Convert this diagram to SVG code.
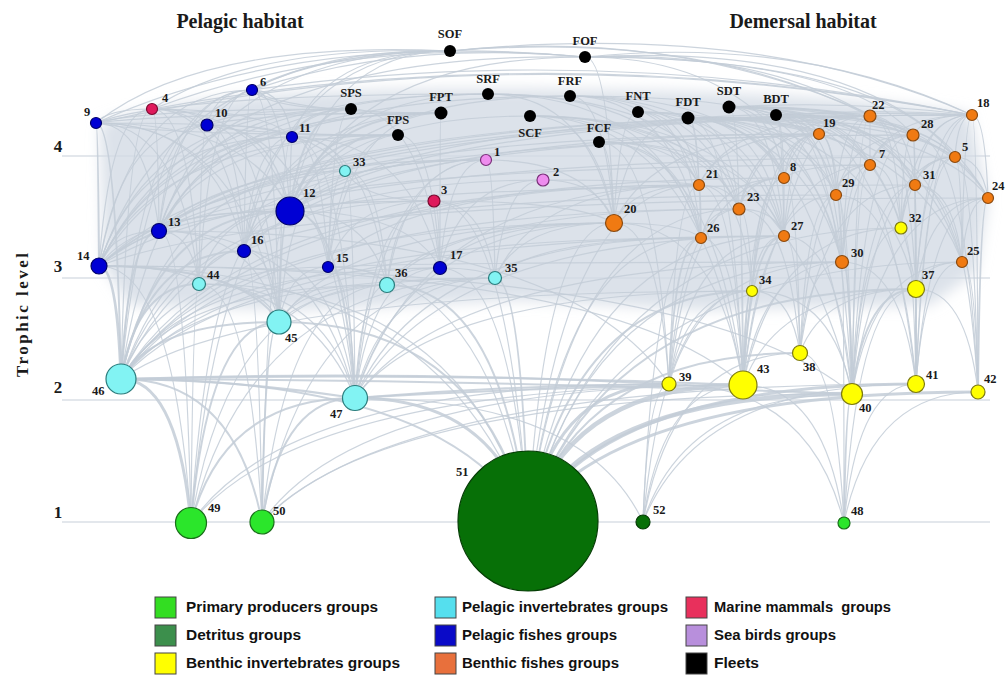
<svg xmlns="http://www.w3.org/2000/svg" width="1006" height="675" viewBox="0 0 1006 675">
<style>
.grid{stroke:#e3e7ec;stroke-width:2;fill:none}
#edges path{fill:none;stroke:#c3ccd7;stroke-opacity:0.85;stroke-linecap:round}
#edges .a{stroke-width:1.2}
#edges .b{stroke-width:2}
#edges .c{stroke-width:3}
#edges .d{stroke-width:4.5}
.pp{fill:#2be62b;stroke:#1a6f1a;stroke-width:1.2}
.det{fill:#077007;stroke:#053d05;stroke-width:1.2}
.bi{fill:#ffff00;stroke:#7d7a10;stroke-width:1.2}
.pi{fill:#82f3f3;stroke:#2a7c7c;stroke-width:1.2}
.pf{fill:#0000d4;stroke:#00006a;stroke-width:1.2}
.bf{fill:#f07a12;stroke:#8a4a10;stroke-width:1.2}
.mm{fill:#df1a5c;stroke:#7a0a30;stroke-width:1.2}
.sb{fill:#ee8cee;stroke:#7a307a;stroke-width:1.2}
.fl{fill:#000}
.lb{font-family:"Liberation Serif","Times New Roman",serif;font-weight:bold;font-size:12.5px;fill:#1a1a1a}
.fb{font-family:"Liberation Serif","Times New Roman",serif;font-weight:bold;font-size:12.5px;fill:#1a1a1a;text-anchor:middle}
.ax{font-family:"Liberation Serif","Times New Roman",serif;font-weight:bold;font-size:17px;fill:#1a1a1a;text-anchor:middle}
.tt{font-family:"Liberation Serif","Times New Roman",serif;font-weight:bold;font-size:20px;fill:#1a1a1a;text-anchor:middle}
.lg{font-family:"Liberation Sans",Arial,sans-serif;font-weight:bold;font-size:14px;fill:#111}
.lgb{stroke:#444;stroke-width:1}
</style>
<defs>
<filter id="soft" x="-10%" y="-20%" width="120%" height="140%"><feGaussianBlur stdDeviation="7"/></filter>
</defs>
<rect width="1006" height="675" fill="#fff"/>
<g id="axis">
<line class="grid" x1="62" y1="156" x2="990" y2="156"/>
<line class="grid" x1="62" y1="278" x2="990" y2="278"/>
<line class="grid" x1="62" y1="400" x2="990" y2="400"/>
<line class="grid" x1="62" y1="522" x2="990" y2="522"/>
<text class="ax" x="58" y="152">4</text>
<text class="ax" x="58" y="272">3</text>
<text class="ax" x="58" y="393">2</text>
<text class="ax" x="58" y="518">1</text>
<text class="ax" transform="translate(28,315) rotate(-90)" textLength="124" lengthAdjust="spacing">Trophic level</text>
<text class="tt" x="240" y="28">Pelagic habitat</text>
<text class="tt" x="803" y="28">Demersal habitat</text>
</g>
<path d="M100,124 C160,98 300,90 450,89 C650,88 850,94 970,114 L988,200 L976,272 L930,305 L700,310 L520,300 L300,310 L130,305 L104,266 Z" fill="#d3dbe5" fill-opacity="0.8" filter="url(#soft)"/>
<g id="edges">
<path class="c" d="M191,523Q177,379 121,379"/>
<path class="b" d="M191,523Q209,322 279,322"/>
<path class="b" d="M191,523Q224,398 355,398"/>
<path class="a" d="M191,523Q193,284 199,284"/>
<path class="a" d="M191,523Q230,285 387,285"/>
<path class="a" d="M191,523Q252,278 495,278"/>
<path class="a" d="M191,523Q222,171 345,171"/>
<path class="a" d="M191,523Q173,266 99,266"/>
<path class="a" d="M191,523Q185,231 159,231"/>
<path class="a" d="M191,523Q301,385 743,385"/>
<path class="a" d="M191,523Q287,384 669,384"/>
<path class="a" d="M191,523Q211,211 290,211"/>
<path class="b" d="M262,522Q234,379 121,379"/>
<path class="b" d="M262,522Q265,322 279,322"/>
<path class="b" d="M262,522Q281,398 355,398"/>
<path class="a" d="M262,522Q249,284 199,284"/>
<path class="a" d="M262,522Q287,285 387,285"/>
<path class="a" d="M262,522Q358,385 743,385"/>
<path class="a" d="M262,522Q393,384 916,384"/>
<path class="a" d="M262,522Q258,251 244,251"/>
<path class="a" d="M262,522Q268,211 290,211"/>
<path class="a" d="M262,522Q309,278 495,278"/>
<path class="a" d="M262,522Q380,394 852,394"/>
<path class="b" d="M528,521Q447,379 121,379"/>
<path class="c" d="M528,521Q493,398 355,398"/>
<path class="b" d="M528,521Q478,322 279,322"/>
<path class="c" d="M528,521Q556,384 669,384"/>
<path class="d" d="M528,521Q571,385 743,385"/>
<path class="d" d="M528,521Q593,394 852,394"/>
<path class="c" d="M528,521Q606,384 916,384"/>
<path class="c" d="M528,521Q618,392 978,392"/>
<path class="b" d="M528,521Q582,353 800,353"/>
<path class="b" d="M528,521Q606,289 916,289"/>
<path class="b" d="M528,521Q573,291 752,291"/>
<path class="a" d="M528,521Q603,228 901,228"/>
<path class="b" d="M528,521Q521,278 495,278"/>
<path class="b" d="M528,521Q500,285 387,285"/>
<path class="a" d="M528,521Q545,223 614,223"/>
<path class="a" d="M528,521Q563,238 701,238"/>
<path class="a" d="M528,521Q570,209 739,209"/>
<path class="a" d="M528,521Q579,236 784,236"/>
<path class="a" d="M528,521Q591,262 842,262"/>
<path class="a" d="M528,521Q615,262 962,262"/>
<path class="a" d="M528,521Q462,284 199,284"/>
<path class="a" d="M528,521Q442,266 99,266"/>
<path class="a" d="M528,521Q510,268 440,268"/>
<path class="a" d="M528,521Q488,267 328,267"/>
<path class="a" d="M528,521Q507,201 434,201"/>
<path class="a" d="M528,521Q562,185 699,185"/>
<path class="a" d="M643,522Q648,384 669,384"/>
<path class="a" d="M643,522Q663,385 743,385"/>
<path class="a" d="M643,522Q685,394 852,394"/>
<path class="a" d="M643,522Q674,353 800,353"/>
<path class="a" d="M643,522Q665,291 752,291"/>
<path class="a" d="M643,522Q655,238 701,238"/>
<path class="a" d="M643,522Q585,398 355,398"/>
<path class="a" d="M643,522Q698,384 916,384"/>
<path class="b" d="M844,523Q846,394 852,394"/>
<path class="a" d="M844,523Q858,384 916,384"/>
<path class="a" d="M844,523Q824,385 743,385"/>
<path class="a" d="M844,523Q835,353 800,353"/>
<path class="a" d="M844,523Q858,289 916,289"/>
<path class="a" d="M844,523Q871,392 978,392"/>
<path class="a" d="M844,523Q809,384 669,384"/>
<path class="a" d="M844,523Q844,262 842,262"/>
<path class="b" d="M121,379Q137,284 199,284"/>
<path class="b" d="M121,379Q153,322 279,322"/>
<path class="c" d="M121,379Q117,266 99,266"/>
<path class="b" d="M121,379Q129,231 159,231"/>
<path class="b" d="M121,379Q146,251 244,251"/>
<path class="b" d="M121,379Q155,211 290,211"/>
<path class="a" d="M121,379Q162,267 328,267"/>
<path class="a" d="M121,379Q185,268 440,268"/>
<path class="a" d="M121,379Q174,285 387,285"/>
<path class="a" d="M121,379Q196,278 495,278"/>
<path class="a" d="M121,379Q166,171 345,171"/>
<path class="b" d="M121,379Q116,123 96,123"/>
<path class="a" d="M121,379Q138,125 207,125"/>
<path class="a" d="M121,379Q155,137 292,137"/>
<path class="a" d="M121,379Q147,90 252,90"/>
<path class="a" d="M121,379Q127,109 152,109"/>
<path class="b" d="M121,379Q238,380 355,398"/>
<path class="a" d="M121,379Q220,223 614,223"/>
<path class="a" d="M121,379Q237,238 701,238"/>
<path class="a" d="M121,379Q237,185 699,185"/>
<path class="a" d="M121,379Q245,209 739,209"/>
<path class="a" d="M121,379Q184,201 434,201"/>
<path class="a" d="M121,379Q194,160 486,160"/>
<path class="a" d="M121,379Q205,180 543,180"/>
<path class="b" d="M121,379Q395,370 669,384"/>
<path class="b" d="M121,379Q430,372 743,385"/>
<path class="b" d="M121,379Q480,380 852,394"/>
<path class="a" d="M121,379Q247,291 752,291"/>
<path class="a" d="M121,379Q254,236 784,236"/>
<path class="a" d="M121,379Q254,178 784,178"/>
<path class="a" d="M355,398Q361,285 387,285"/>
<path class="a" d="M355,398Q383,278 495,278"/>
<path class="a" d="M355,398Q350,267 328,267"/>
<path class="a" d="M355,398Q372,268 440,268"/>
<path class="b" d="M355,398Q342,211 290,211"/>
<path class="a" d="M355,398Q333,251 244,251"/>
<path class="a" d="M355,398Q407,223 614,223"/>
<path class="a" d="M355,398Q424,238 701,238"/>
<path class="a" d="M355,398Q441,236 784,236"/>
<path class="b" d="M355,398Q512,385 669,384"/>
<path class="b" d="M355,398Q550,386 743,385"/>
<path class="a" d="M355,398Q452,262 842,262"/>
<path class="a" d="M355,398Q434,291 752,291"/>
<path class="a" d="M355,398Q316,231 159,231"/>
<path class="a" d="M355,398Q304,266 99,266"/>
<path class="a" d="M355,398Q324,284 199,284"/>
<path class="a" d="M355,398Q353,171 345,171"/>
<path class="a" d="M355,398Q371,201 434,201"/>
<path class="a" d="M355,398Q381,160 486,160"/>
<path class="a" d="M355,398Q342,137 292,137"/>
<path class="a" d="M355,398Q325,125 207,125"/>
<path class="a" d="M355,398Q424,185 699,185"/>
<path class="a" d="M279,322Q263,284 199,284"/>
<path class="a" d="M279,322Q301,285 387,285"/>
<path class="b" d="M279,322Q243,266 99,266"/>
<path class="a" d="M279,322Q255,231 159,231"/>
<path class="a" d="M279,322Q272,251 244,251"/>
<path class="b" d="M279,322Q281,211 290,211"/>
<path class="a" d="M279,322Q289,267 328,267"/>
<path class="a" d="M279,322Q292,171 345,171"/>
<path class="a" d="M279,322Q282,137 292,137"/>
<path class="a" d="M279,322Q265,125 207,125"/>
<path class="a" d="M279,322Q242,123 96,123"/>
<path class="a" d="M279,322Q311,268 440,268"/>
<path class="a" d="M279,322Q322,278 495,278"/>
<path class="a" d="M279,322Q254,109 152,109"/>
<path class="a" d="M279,322Q274,90 252,90"/>
<path class="a" d="M279,322Q346,223 614,223"/>
<path class="a" d="M199,284Q179,266 99,266"/>
<path class="a" d="M199,284Q191,231 159,231"/>
<path class="a" d="M199,284Q180,123 96,123"/>
<path class="a" d="M199,284Q190,109 152,109"/>
<path class="a" d="M199,284Q208,251 244,251"/>
<path class="a" d="M199,284Q217,211 290,211"/>
<path class="a" d="M199,284Q201,125 207,125"/>
<path class="a" d="M199,284Q210,90 252,90"/>
<path class="a" d="M387,285Q368,211 290,211"/>
<path class="a" d="M387,285Q375,267 328,267"/>
<path class="a" d="M387,285Q398,268 440,268"/>
<path class="a" d="M387,285Q379,171 345,171"/>
<path class="a" d="M387,285Q396,201 434,201"/>
<path class="a" d="M387,285Q407,160 486,160"/>
<path class="a" d="M387,285Q368,137 292,137"/>
<path class="a" d="M387,285Q432,223 614,223"/>
<path class="a" d="M495,278Q484,268 440,268"/>
<path class="a" d="M495,278Q519,223 614,223"/>
<path class="a" d="M495,278Q505,180 543,180"/>
<path class="a" d="M495,278Q483,201 434,201"/>
<path class="a" d="M495,278Q536,185 699,185"/>
<path class="a" d="M495,278Q493,160 486,160"/>
<path class="a" d="M495,278Q536,238 701,238"/>
<path class="a" d="M345,171Q334,137 292,137"/>
<path class="a" d="M345,171Q373,160 486,160"/>
<path class="a" d="M345,171Q363,201 434,201"/>
<path class="a" d="M345,171Q313,125 207,125"/>
<path class="b" d="M669,384Q675,238 701,238"/>
<path class="a" d="M669,384Q658,223 614,223"/>
<path class="a" d="M669,384Q683,209 739,209"/>
<path class="a" d="M669,384Q675,185 699,185"/>
<path class="a" d="M669,384Q692,236 784,236"/>
<path class="a" d="M669,384Q692,178 784,178"/>
<path class="a" d="M669,384Q686,291 752,291"/>
<path class="a" d="M669,384Q704,262 842,262"/>
<path class="b" d="M743,385Q742,209 739,209"/>
<path class="b" d="M743,385Q751,236 784,236"/>
<path class="a" d="M743,385Q763,262 842,262"/>
<path class="a" d="M743,385Q751,178 784,178"/>
<path class="a" d="M743,385Q762,195 836,195"/>
<path class="a" d="M743,385Q734,185 699,185"/>
<path class="a" d="M743,385Q735,238 701,238"/>
<path class="a" d="M743,385Q758,134 819,134"/>
<path class="a" d="M743,385Q768,165 870,165"/>
<path class="b" d="M743,385Q745,291 752,291"/>
<path class="a" d="M743,385Q717,223 614,223"/>
<path class="a" d="M743,385Q778,289 916,289"/>
<path class="a" d="M743,385Q775,228 901,228"/>
<path class="a" d="M800,353Q797,236 784,236"/>
<path class="a" d="M800,353Q808,262 842,262"/>
<path class="a" d="M800,353Q807,195 836,195"/>
<path class="a" d="M800,353Q814,165 870,165"/>
<path class="a" d="M800,353Q823,185 915,185"/>
<path class="a" d="M800,353Q790,291 752,291"/>
<path class="a" d="M800,353Q823,289 916,289"/>
<path class="a" d="M800,353Q797,178 784,178"/>
<path class="a" d="M800,353Q788,209 739,209"/>
<path class="b" d="M852,394Q850,262 842,262"/>
<path class="a" d="M852,394Q849,195 836,195"/>
<path class="b" d="M852,394Q865,289 916,289"/>
<path class="a" d="M852,394Q865,185 915,185"/>
<path class="a" d="M852,394Q864,135 913,135"/>
<path class="a" d="M852,394Q874,262 962,262"/>
<path class="a" d="M852,394Q862,228 901,228"/>
<path class="a" d="M852,394Q856,165 870,165"/>
<path class="a" d="M852,394Q838,236 784,236"/>
<path class="a" d="M852,394Q856,116 870,116"/>
<path class="a" d="M852,394Q845,134 819,134"/>
<path class="a" d="M852,394Q879,198 988,198"/>
<path class="a" d="M852,394Q832,291 752,291"/>
<path class="a" d="M852,394Q873,157 955,157"/>
<path class="b" d="M916,384Q916,330 916,289"/>
<path class="a" d="M916,384Q916,185 915,185"/>
<path class="a" d="M916,384Q925,262 962,262"/>
<path class="a" d="M916,384Q915,135 913,135"/>
<path class="a" d="M916,384Q930,198 988,198"/>
<path class="a" d="M916,384Q924,157 955,157"/>
<path class="a" d="M916,384Q927,115 972,115"/>
<path class="a" d="M916,384Q913,228 901,228"/>
<path class="a" d="M916,384Q901,262 842,262"/>
<path class="a" d="M916,384Q900,195 836,195"/>
<path class="b" d="M978,392Q980,198 988,198"/>
<path class="a" d="M978,392Q975,262 962,262"/>
<path class="a" d="M978,392Q977,115 972,115"/>
<path class="a" d="M978,392Q973,157 955,157"/>
<path class="a" d="M978,392Q966,289 916,289"/>
<path class="a" d="M978,392Q966,185 915,185"/>
<path class="a" d="M978,392Q965,135 913,135"/>
<path class="a" d="M916,289Q916,185 915,185"/>
<path class="a" d="M916,289Q915,135 913,135"/>
<path class="a" d="M916,289Q927,115 972,115"/>
<path class="a" d="M916,289Q924,157 955,157"/>
<path class="a" d="M916,289Q930,198 988,198"/>
<path class="a" d="M916,289Q907,116 870,116"/>
<path class="a" d="M916,289Q925,262 962,262"/>
<path class="a" d="M752,291Q749,209 739,209"/>
<path class="a" d="M752,291Q758,178 784,178"/>
<path class="a" d="M752,291Q758,236 784,236"/>
<path class="a" d="M752,291Q742,185 699,185"/>
<path class="a" d="M752,291Q765,134 819,134"/>
<path class="a" d="M901,228Q903,135 913,135"/>
<path class="a" d="M901,228Q895,165 870,165"/>
<path class="a" d="M901,228Q895,116 870,116"/>
<path class="a" d="M901,228Q904,185 915,185"/>
<path class="a" d="M901,228Q912,157 955,157"/>
<path class="a" d="M901,228Q915,115 972,115"/>
<path class="a" d="M842,262Q841,195 836,195"/>
<path class="a" d="M842,262Q848,165 870,165"/>
<path class="a" d="M842,262Q837,134 819,134"/>
<path class="a" d="M842,262Q848,116 870,116"/>
<path class="a" d="M842,262Q856,135 913,135"/>
<path class="a" d="M784,236Q784,200 784,178"/>
<path class="a" d="M784,236Q791,134 819,134"/>
<path class="a" d="M784,236Q801,116 870,116"/>
<path class="a" d="M784,236Q775,209 739,209"/>
<path class="a" d="M701,238Q701,185 699,185"/>
<path class="a" d="M701,238Q709,209 739,209"/>
<path class="a" d="M701,238Q684,223 614,223"/>
<path class="a" d="M701,238Q718,178 784,178"/>
<path class="a" d="M739,209Q731,185 699,185"/>
<path class="a" d="M739,209Q748,178 784,178"/>
<path class="a" d="M739,209Q755,134 819,134"/>
<path class="a" d="M739,209Q765,116 870,116"/>
<path class="a" d="M614,223Q631,185 699,185"/>
<path class="a" d="M614,223Q600,180 543,180"/>
<path class="a" d="M614,223Q588,160 486,160"/>
<path class="a" d="M614,223Q655,134 819,134"/>
<path class="a" d="M614,223Q578,201 434,201"/>
<path class="a" d="M962,262Q967,198 988,198"/>
<path class="a" d="M962,262Q961,157 955,157"/>
<path class="a" d="M962,262Q964,115 972,115"/>
<path class="a" d="M962,262Q953,185 915,185"/>
<path class="a" d="M836,195Q843,165 870,165"/>
<path class="a" d="M836,195Q833,134 819,134"/>
<path class="a" d="M836,195Q851,135 913,135"/>
<path class="a" d="M836,195Q843,116 870,116"/>
<path class="a" d="M915,185Q915,135 913,135"/>
<path class="a" d="M915,185Q923,157 955,157"/>
<path class="a" d="M915,185Q926,115 972,115"/>
<path class="a" d="M915,185Q906,116 870,116"/>
<path class="a" d="M988,198Q985,115 972,115"/>
<path class="a" d="M988,198Q981,157 955,157"/>
<path class="a" d="M699,185Q723,134 819,134"/>
<path class="a" d="M699,185Q733,116 870,116"/>
<path class="a" d="M699,185Q668,180 543,180"/>
<path class="a" d="M784,178Q791,134 819,134"/>
<path class="a" d="M784,178Q801,116 870,116"/>
<path class="a" d="M784,178Q801,165 870,165"/>
<path class="a" d="M870,165Q870,140 870,116"/>
<path class="a" d="M870,165Q879,135 913,135"/>
<path class="a" d="M870,165Q890,115 972,115"/>
<path class="a" d="M819,134Q829,116 870,116"/>
<path class="a" d="M913,135Q925,115 972,115"/>
<path class="a" d="M955,157Q958,115 972,115"/>
<path class="b" d="M99,266Q98,123 96,123"/>
<path class="a" d="M99,266Q110,109 152,109"/>
<path class="a" d="M99,266Q121,125 207,125"/>
<path class="a" d="M99,266Q111,231 159,231"/>
<path class="a" d="M99,266Q130,90 252,90"/>
<path class="a" d="M99,266Q137,211 290,211"/>
<path class="a" d="M99,266Q138,137 292,137"/>
<path class="a" d="M99,266Q166,201 434,201"/>
<path class="a" d="M159,231Q146,123 96,123"/>
<path class="a" d="M159,231Q169,125 207,125"/>
<path class="a" d="M159,231Q158,109 152,109"/>
<path class="a" d="M159,231Q178,90 252,90"/>
<path class="a" d="M159,231Q185,211 290,211"/>
<path class="a" d="M159,231Q186,137 292,137"/>
<path class="a" d="M159,231Q224,160 486,160"/>
<path class="a" d="M244,251Q237,125 207,125"/>
<path class="a" d="M244,251Q254,137 292,137"/>
<path class="a" d="M244,251Q246,90 252,90"/>
<path class="a" d="M244,251Q253,211 290,211"/>
<path class="a" d="M244,251Q226,109 152,109"/>
<path class="a" d="M244,251Q215,123 96,123"/>
<path class="a" d="M290,211Q282,90 252,90"/>
<path class="a" d="M290,211Q273,125 207,125"/>
<path class="a" d="M290,211Q290,160 292,137"/>
<path class="a" d="M290,211Q262,109 152,109"/>
<path class="a" d="M290,211Q329,160 486,160"/>
<path class="a" d="M290,211Q319,201 434,201"/>
<path class="a" d="M290,211Q251,123 96,123"/>
<path class="a" d="M328,267Q321,137 292,137"/>
<path class="a" d="M328,267Q320,211 290,211"/>
<path class="a" d="M328,267Q331,171 345,171"/>
<path class="a" d="M328,267Q349,201 434,201"/>
<path class="a" d="M440,268Q439,201 434,201"/>
<path class="a" d="M440,268Q449,160 486,160"/>
<path class="a" d="M440,268Q461,180 543,180"/>
<path class="a" d="M440,268Q410,211 290,211"/>
<path class="a" d="M440,268Q410,137 292,137"/>
<path class="a" d="M292,137Q284,90 252,90"/>
<path class="a" d="M292,137Q264,109 152,109"/>
<path class="a" d="M292,137Q275,125 207,125"/>
<path class="a" d="M207,125Q198,109 152,109"/>
<path class="a" d="M207,125Q216,90 252,90"/>
<path class="a" d="M207,125Q185,123 96,123"/>
<path class="a" d="M96,123Q107,109 152,109"/>
<path class="a" d="M96,123Q200,40 450,51"/>
<path class="a" d="M252,90Q330,48 450,51"/>
<path class="a" d="M207,125Q260,55 450,51"/>
<path class="a" d="M290,211Q322,51 450,51"/>
<path class="a" d="M159,231Q217,51 450,51"/>
<path class="a" d="M99,266Q169,51 450,51"/>
<path class="a" d="M244,251Q285,51 450,51"/>
<path class="a" d="M292,137Q324,51 450,51"/>
<path class="a" d="M152,109Q250,45 450,51"/>
<path class="a" d="M972,115Q760,20 450,51"/>
<path class="a" d="M870,116Q700,30 450,51"/>
<path class="a" d="M913,135Q700,25 450,51"/>
<path class="a" d="M96,123Q300,30 585,57"/>
<path class="a" d="M152,109Q350,35 585,57"/>
<path class="a" d="M252,90Q400,40 585,57"/>
<path class="a" d="M99,266Q200,50 585,57"/>
<path class="a" d="M290,211Q349,57 585,57"/>
<path class="a" d="M972,115Q800,35 585,57"/>
<path class="a" d="M870,116Q760,50 585,57"/>
<path class="a" d="M913,135Q847,57 585,57"/>
<path class="a" d="M988,198Q900,40 585,57"/>
<path class="a" d="M955,157Q881,57 585,57"/>
<path class="a" d="M614,223Q608,57 585,57"/>
<path class="a" d="M842,262Q791,57 585,57"/>
<path class="a" d="M96,123Q520,30 972,115"/>
<path class="a" d="M152,109Q560,35 972,115"/>
<path class="a" d="M252,90Q600,40 972,115"/>
<path class="a" d="M96,123Q147,109 351,109"/>
<path class="a" d="M207,125Q236,109 351,109"/>
<path class="a" d="M292,137Q304,109 351,109"/>
<path class="b" d="M290,211Q302,109 351,109"/>
<path class="a" d="M159,231Q197,109 351,109"/>
<path class="a" d="M99,266Q149,109 351,109"/>
<path class="a" d="M244,251Q265,109 351,109"/>
<path class="a" d="M328,267Q333,109 351,109"/>
<path class="a" d="M440,268Q422,109 351,109"/>
<path class="a" d="M252,90Q272,109 351,109"/>
<path class="b" d="M290,211Q320,113 441,113"/>
<path class="a" d="M159,231Q215,113 441,113"/>
<path class="a" d="M99,266Q167,113 441,113"/>
<path class="a" d="M96,123Q165,113 441,113"/>
<path class="a" d="M244,251Q283,113 441,113"/>
<path class="a" d="M328,267Q351,113 441,113"/>
<path class="a" d="M440,268Q440,113 441,113"/>
<path class="a" d="M292,137Q322,113 441,113"/>
<path class="a" d="M207,125Q254,113 441,113"/>
<path class="a" d="M252,90Q290,113 441,113"/>
<path class="b" d="M290,211Q312,135 398,135"/>
<path class="a" d="M159,231Q207,135 398,135"/>
<path class="a" d="M99,266Q159,135 398,135"/>
<path class="a" d="M244,251Q275,135 398,135"/>
<path class="a" d="M328,267Q342,135 398,135"/>
<path class="a" d="M440,268Q432,135 398,135"/>
<path class="a" d="M292,137Q313,135 398,135"/>
<path class="a" d="M207,125Q245,135 398,135"/>
<path class="a" d="M96,123Q156,135 398,135"/>
<path class="a" d="M614,223Q589,94 488,94"/>
<path class="a" d="M699,185Q657,94 488,94"/>
<path class="a" d="M290,211Q330,94 488,94"/>
<path class="a" d="M99,266Q177,94 488,94"/>
<path class="a" d="M159,231Q225,94 488,94"/>
<path class="a" d="M701,238Q658,94 488,94"/>
<path class="a" d="M739,209Q689,94 488,94"/>
<path class="a" d="M96,123Q174,94 488,94"/>
<path class="a" d="M614,223Q605,96 570,96"/>
<path class="a" d="M699,185Q673,96 570,96"/>
<path class="a" d="M739,209Q705,96 570,96"/>
<path class="a" d="M701,238Q675,96 570,96"/>
<path class="a" d="M784,236Q741,96 570,96"/>
<path class="a" d="M819,134Q769,96 570,96"/>
<path class="a" d="M784,178Q741,96 570,96"/>
<path class="a" d="M99,266Q193,96 570,96"/>
<path class="a" d="M290,211Q346,96 570,96"/>
<path class="a" d="M614,223Q597,116 530,116"/>
<path class="a" d="M699,185Q665,116 530,116"/>
<path class="a" d="M739,209Q697,116 530,116"/>
<path class="a" d="M701,238Q667,116 530,116"/>
<path class="a" d="M290,211Q338,116 530,116"/>
<path class="a" d="M743,385Q700,116 530,116"/>
<path class="a" d="M852,394Q788,116 530,116"/>
<path class="a" d="M784,236Q733,116 530,116"/>
<path class="a" d="M614,223Q611,142 599,142"/>
<path class="a" d="M699,185Q679,142 599,142"/>
<path class="a" d="M739,209Q711,142 599,142"/>
<path class="a" d="M701,238Q681,142 599,142"/>
<path class="a" d="M784,236Q747,142 599,142"/>
<path class="a" d="M743,385Q714,142 599,142"/>
<path class="a" d="M669,384Q655,142 599,142"/>
<path class="a" d="M614,223Q619,112 638,112"/>
<path class="a" d="M699,185Q687,112 638,112"/>
<path class="a" d="M739,209Q719,112 638,112"/>
<path class="a" d="M701,238Q688,112 638,112"/>
<path class="a" d="M784,236Q755,112 638,112"/>
<path class="a" d="M784,178Q755,112 638,112"/>
<path class="a" d="M836,195Q796,112 638,112"/>
<path class="a" d="M842,262Q801,112 638,112"/>
<path class="a" d="M614,223Q629,118 688,118"/>
<path class="a" d="M699,185Q697,118 688,118"/>
<path class="a" d="M739,209Q729,118 688,118"/>
<path class="a" d="M701,238Q698,118 688,118"/>
<path class="a" d="M784,236Q765,118 688,118"/>
<path class="a" d="M784,178Q765,118 688,118"/>
<path class="a" d="M836,195Q806,118 688,118"/>
<path class="a" d="M842,262Q811,118 688,118"/>
<path class="a" d="M870,165Q834,118 688,118"/>
<path class="a" d="M819,134Q793,118 688,118"/>
<path class="a" d="M870,116Q779,117 688,118"/>
<path class="a" d="M913,135Q868,118 688,118"/>
<path class="a" d="M915,185Q870,118 688,118"/>
<path class="a" d="M962,262Q907,118 688,118"/>
<path class="a" d="M988,198Q928,118 688,118"/>
<path class="a" d="M972,115Q830,110 688,118"/>
<path class="a" d="M955,157Q902,118 688,118"/>
<path class="a" d="M852,394Q819,118 688,118"/>
<path class="a" d="M743,385Q732,118 688,118"/>
<path class="a" d="M916,289Q870,118 688,118"/>
<path class="a" d="M819,134Q801,107 729,107"/>
<path class="a" d="M870,116Q800,105 729,107"/>
<path class="a" d="M913,135Q876,107 729,107"/>
<path class="a" d="M972,115Q850,100 729,107"/>
<path class="a" d="M955,157Q910,107 729,107"/>
<path class="a" d="M870,165Q842,107 729,107"/>
<path class="a" d="M915,185Q878,107 729,107"/>
<path class="a" d="M836,195Q815,107 729,107"/>
<path class="a" d="M842,262Q819,107 729,107"/>
<path class="a" d="M962,262Q915,107 729,107"/>
<path class="a" d="M988,198Q936,107 729,107"/>
<path class="a" d="M739,209Q737,107 729,107"/>
<path class="a" d="M784,178Q773,107 729,107"/>
<path class="a" d="M784,236Q773,107 729,107"/>
<path class="a" d="M901,228Q867,107 729,107"/>
<path class="a" d="M972,115Q874,108 776,115"/>
<path class="a" d="M870,116Q823,112 776,115"/>
<path class="a" d="M913,135Q886,115 776,115"/>
<path class="a" d="M955,157Q919,115 776,115"/>
<path class="a" d="M870,165Q851,115 776,115"/>
<path class="a" d="M915,185Q887,115 776,115"/>
<path class="a" d="M836,195Q824,115 776,115"/>
<path class="a" d="M842,262Q829,115 776,115"/>
<path class="a" d="M962,262Q925,115 776,115"/>
<path class="a" d="M988,198Q946,115 776,115"/>
<path class="a" d="M819,134Q810,115 776,115"/>
<path class="a" d="M784,178Q782,115 776,115"/>
<path class="a" d="M784,236Q782,115 776,115"/>
<path class="a" d="M916,289Q888,115 776,115"/>
<path class="a" d="M852,394Q837,115 776,115"/>
<path class="a" d="M916,384Q888,115 776,115"/>
<path class="a" d="M99,266Q253,116 870,116"/>
<path class="a" d="M99,266Q274,115 972,115"/>
<path class="a" d="M99,266Q262,135 913,135"/>
<path class="a" d="M99,266Q243,134 819,134"/>
<path class="a" d="M159,231Q301,116 870,116"/>
<path class="a" d="M159,231Q322,115 972,115"/>
<path class="a" d="M290,211Q426,115 972,115"/>
<path class="a" d="M290,211Q406,116 870,116"/>
<path class="a" d="M290,211Q415,135 913,135"/>
<path class="a" d="M244,251Q359,134 819,134"/>
<path class="a" d="M328,267Q431,262 842,262"/>
<path class="a" d="M440,268Q475,223 614,223"/>
<path class="a" d="M99,266Q277,198 988,198"/>
<path class="a" d="M99,266Q270,157 955,157"/>
<path class="a" d="M159,231Q301,165 870,165"/>
<path class="a" d="M244,251Q362,195 836,195"/>
<path class="a" d="M290,211Q415,185 915,185"/>
<path class="a" d="M387,285Q457,209 739,209"/>
<path class="a" d="M328,267Q402,185 699,185"/>
<path class="a" d="M743,385Q614,266 99,266"/>
<path class="a" d="M669,384Q567,231 159,231"/>
<path class="a" d="M852,394Q701,266 99,266"/>
</g>
<g id="nodes">
<g id="n-SOF"><circle class="fl" cx="450" cy="51" r="6"/><text class="fb" x="450" y="38">SOF</text></g>
<g id="n-FOF"><circle class="fl" cx="585" cy="57" r="6"/><text class="fb" x="585" y="45">FOF</text></g>
<g id="n-SPS"><circle class="fl" cx="351" cy="109" r="6"/><text class="fb" x="351" y="97">SPS</text></g>
<g id="n-FPT"><circle class="fl" cx="441" cy="113" r="6.5"/><text class="fb" x="441" y="101">FPT</text></g>
<g id="n-SRF"><circle class="fl" cx="488" cy="94" r="6"/><text class="fb" x="488" y="83">SRF</text></g>
<g id="n-FRF"><circle class="fl" cx="570" cy="96" r="6"/><text class="fb" x="570" y="85">FRF</text></g>
<g id="n-FPS"><circle class="fl" cx="398" cy="135" r="6"/><text class="fb" x="398" y="124">FPS</text></g>
<g id="n-SCF"><circle class="fl" cx="530" cy="116" r="6"/><text class="fb" x="530" y="137">SCF</text></g>
<g id="n-FCF"><circle class="fl" cx="599" cy="142" r="6"/><text class="fb" x="599" y="132">FCF</text></g>
<g id="n-FNT"><circle class="fl" cx="638" cy="112" r="6"/><text class="fb" x="638" y="100">FNT</text></g>
<g id="n-FDT"><circle class="fl" cx="688" cy="118" r="6.5"/><text class="fb" x="688" y="106">FDT</text></g>
<g id="n-SDT"><circle class="fl" cx="729" cy="107" r="6.5"/><text class="fb" x="729" y="95">SDT</text></g>
<g id="n-BDT"><circle class="fl" cx="776" cy="115" r="6"/><text class="fb" x="776" y="103">BDT</text></g>
<g id="n1"><circle class="sb" cx="486" cy="160" r="5.5"/><text class="lb" x="494" y="156">1</text></g>
<g id="n2"><circle class="sb" cx="543" cy="180" r="6"/><text class="lb" x="553" y="176">2</text></g>
<g id="n3"><circle class="mm" cx="434" cy="201" r="6"/><text class="lb" x="441" y="194">3</text></g>
<g id="n4"><circle class="mm" cx="152" cy="109" r="5.5"/><text class="lb" x="162" y="102">4</text></g>
<g id="n5"><circle class="bf" cx="955" cy="157" r="5.5"/><text class="lb" x="962" y="151">5</text></g>
<g id="n6"><circle class="pf" cx="252" cy="90" r="5.5"/><text class="lb" x="260" y="86">6</text></g>
<g id="n7"><circle class="bf" cx="870" cy="165" r="5.5"/><text class="lb" x="879" y="158">7</text></g>
<g id="n8"><circle class="bf" cx="784" cy="178" r="5.5"/><text class="lb" x="790" y="171">8</text></g>
<g id="n9"><circle class="pf" cx="96" cy="123" r="5.5"/><text class="lb" x="84" y="116">9</text></g>
<g id="n10"><circle class="pf" cx="207" cy="125" r="6"/><text class="lb" x="215" y="117">10</text></g>
<g id="n11"><circle class="pf" cx="292" cy="137" r="5.5"/><text class="lb" x="299" y="132">11</text></g>
<g id="n12"><circle class="pf" cx="290" cy="211" r="14"/><text class="lb" x="303" y="197">12</text></g>
<g id="n13"><circle class="pf" cx="159" cy="231" r="7.5"/><text class="lb" x="168" y="226">13</text></g>
<g id="n14"><circle class="pf" cx="99" cy="266" r="8"/><text class="lb" x="77" y="260">14</text></g>
<g id="n15"><circle class="pf" cx="328" cy="267" r="5.5"/><text class="lb" x="336" y="262">15</text></g>
<g id="n16"><circle class="pf" cx="244" cy="251" r="6.5"/><text class="lb" x="251" y="244">16</text></g>
<g id="n17"><circle class="pf" cx="440" cy="268" r="6.5"/><text class="lb" x="450" y="259">17</text></g>
<g id="n18"><circle class="bf" cx="972" cy="115" r="5.5"/><text class="lb" x="977" y="107">18</text></g>
<g id="n19"><circle class="bf" cx="819" cy="134" r="5.5"/><text class="lb" x="823" y="127">19</text></g>
<g id="n20"><circle class="bf" cx="614" cy="223" r="8.5"/><text class="lb" x="624" y="213">20</text></g>
<g id="n21"><circle class="bf" cx="699" cy="185" r="5.5"/><text class="lb" x="706" y="178">21</text></g>
<g id="n22"><circle class="bf" cx="870" cy="116" r="6"/><text class="lb" x="872" y="109">22</text></g>
<g id="n23"><circle class="bf" cx="739" cy="209" r="6"/><text class="lb" x="747" y="201">23</text></g>
<g id="n24"><circle class="bf" cx="988" cy="198" r="5.5"/><text class="lb" x="992" y="190">24</text></g>
<g id="n25"><circle class="bf" cx="962" cy="262" r="5.5"/><text class="lb" x="967" y="255">25</text></g>
<g id="n26"><circle class="bf" cx="701" cy="238" r="5.5"/><text class="lb" x="707" y="232">26</text></g>
<g id="n27"><circle class="bf" cx="784" cy="236" r="5.5"/><text class="lb" x="791" y="230">27</text></g>
<g id="n28"><circle class="bf" cx="913" cy="135" r="6"/><text class="lb" x="921" y="128">28</text></g>
<g id="n29"><circle class="bf" cx="836" cy="195" r="5.5"/><text class="lb" x="842" y="187">29</text></g>
<g id="n30"><circle class="bf" cx="842" cy="262" r="6.5"/><text class="lb" x="851" y="257">30</text></g>
<g id="n31"><circle class="bf" cx="915" cy="185" r="5.5"/><text class="lb" x="923" y="179">31</text></g>
<g id="n32"><circle class="bi" cx="901" cy="228" r="6"/><text class="lb" x="909" y="222">32</text></g>
<g id="n33"><circle class="pi" cx="345" cy="171" r="5.5"/><text class="lb" x="353" y="166">33</text></g>
<g id="n34"><circle class="bi" cx="752" cy="291" r="5.5"/><text class="lb" x="759" y="284">34</text></g>
<g id="n35"><circle class="pi" cx="495" cy="278" r="6.5"/><text class="lb" x="505" y="272">35</text></g>
<g id="n36"><circle class="pi" cx="387" cy="285" r="7.5"/><text class="lb" x="395" y="277">36</text></g>
<g id="n37"><circle class="bi" cx="916" cy="289" r="8.5"/><text class="lb" x="922" y="279">37</text></g>
<g id="n38"><circle class="bi" cx="800" cy="353" r="7.5"/><text class="lb" x="803" y="371">38</text></g>
<g id="n39"><circle class="bi" cx="669" cy="384" r="7"/><text class="lb" x="679" y="381">39</text></g>
<g id="n40"><circle class="bi" cx="852" cy="394" r="10.5"/><text class="lb" x="859" y="412">40</text></g>
<g id="n41"><circle class="bi" cx="916" cy="384" r="8.5"/><text class="lb" x="926" y="379">41</text></g>
<g id="n42"><circle class="bi" cx="978" cy="392" r="7"/><text class="lb" x="984" y="383">42</text></g>
<g id="n43"><circle class="bi" cx="743" cy="385" r="14"/><text class="lb" x="757" y="373">43</text></g>
<g id="n44"><circle class="pi" cx="199" cy="284" r="6.5"/><text class="lb" x="207" y="279">44</text></g>
<g id="n45"><circle class="pi" cx="279" cy="322" r="12"/><text class="lb" x="285" y="342">45</text></g>
<g id="n46"><circle class="pi" cx="121" cy="379" r="15"/><text class="lb" x="92" y="395">46</text></g>
<g id="n47"><circle class="pi" cx="355" cy="398" r="12.5"/><text class="lb" x="330" y="418">47</text></g>
<g id="n48"><circle class="pp" cx="844" cy="523" r="6"/><text class="lb" x="851" y="515">48</text></g>
<g id="n49"><circle class="pp" cx="191" cy="523" r="15.5"/><text class="lb" x="208" y="512">49</text></g>
<g id="n50"><circle class="pp" cx="262" cy="522" r="12"/><text class="lb" x="273" y="515">50</text></g>
<g id="n51"><circle class="det" cx="528" cy="521" r="70"/><text class="lb" x="456" y="476">51</text></g>
<g id="n52"><circle class="det" cx="643" cy="522" r="7"/><text class="lb" x="653" y="514">52</text></g>
</g>
<g id="legend">
<rect class="lgb" x="155" y="597" width="21" height="21" fill="#33dd22"/>
<text class="lg" x="186" y="612" textLength="192" lengthAdjust="spacingAndGlyphs">Primary producers groups</text>
<rect class="lgb" x="155" y="625" width="21" height="21" fill="#3c8f4c"/>
<text class="lg" x="186" y="640" textLength="115" lengthAdjust="spacingAndGlyphs">Detritus groups</text>
<rect class="lgb" x="155" y="653" width="21" height="21" fill="#ffff00"/>
<text class="lg" x="186" y="668" textLength="214" lengthAdjust="spacingAndGlyphs">Benthic invertebrates groups</text>
<rect class="lgb" x="435" y="597" width="21" height="21" fill="#55dfee"/>
<text class="lg" x="462" y="612" textLength="206" lengthAdjust="spacingAndGlyphs">Pelagic invertebrates groups</text>
<rect class="lgb" x="435" y="625" width="21" height="21" fill="#0a0ac8"/>
<text class="lg" x="462" y="640" textLength="155" lengthAdjust="spacingAndGlyphs">Pelagic fishes groups</text>
<rect class="lgb" x="435" y="653" width="21" height="21" fill="#e8703c"/>
<text class="lg" x="462" y="668" textLength="157" lengthAdjust="spacingAndGlyphs">Benthic fishes groups</text>
<rect class="lgb" x="686" y="597" width="21" height="21" fill="#e8305c"/>
<text class="lg" x="714" y="612" textLength="177" lengthAdjust="spacingAndGlyphs" xml:space="preserve">Marine mammals  groups</text>
<rect class="lgb" x="686" y="625" width="21" height="21" fill="#b88fdc"/>
<text class="lg" x="714" y="640" textLength="122" lengthAdjust="spacingAndGlyphs">Sea birds groups</text>
<rect class="lgb" x="686" y="653" width="21" height="21" fill="#000"/>
<text class="lg" x="714" y="668" textLength="45" lengthAdjust="spacingAndGlyphs">Fleets</text>
</g>
</svg>
